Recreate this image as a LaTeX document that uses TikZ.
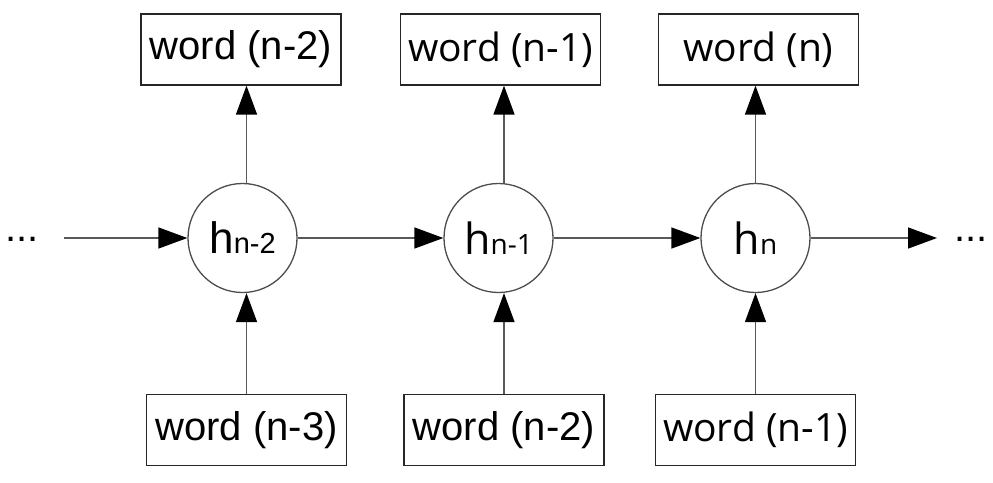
\documentclass[tikz,border=0pt]{standalone}
\usepackage{fontspec}
\setmainfont{Liberation Sans}
\newfontfamily\fb{Open Sans}
\usetikzlibrary{arrows.meta}
\begin{document}
\begin{tikzpicture}[x=1pt,y=-1pt,
 wbox/.style={draw=black!85, line width=1.3pt, minimum width=200pt, minimum height=71pt, inner sep=0pt, font=\fontsize{40}{40}\selectfont},
 wboxb/.style={wbox, font=\fb\fontsize{39}{39}\selectfont},
 hnode/.style={circle, draw=black!70, line width=1.3pt, minimum size=109pt, inner sep=0pt},
 conn/.style={draw=black!65, line width=1.5pt, -{Triangle[length=29pt,width=21pt,color=black]}},
 dots/.style={inner sep=0pt, anchor=base west, font=\fontsize{40}{40}\selectfont}
]
\useasboundingbox (0,0) rectangle (993,482);
% top boxes
\node[wbox]  (t1) at (241,49.5)   {word (n-2)};
\node[wboxb] (t2) at (500.5,49.5) {word (n-1)};
\node[wboxb] (t3) at (758.5,49.5) {word (n)};
% bottom boxes
\node[wbox]  (b1) at (246.5,430) {word (n-3)};
\node[wbox]  (b2) at (504,430)   {word (n-2)};
\node[wboxb] (b3) at (755.5,430) {word (n-1)};
% hidden states
\node[hnode] (c1) at (242.5,238) {\fontsize{44}{44}\selectfont h\fontsize{29}{29}\selectfont n-2};
\node[hnode] (c2) at (498.5,238) {\fb\fontsize{43}{43}\selectfont h\fontsize{28}{28}\selectfont n-1};
\node[hnode] (c3) at (755.5,238) {\fb\fontsize{43}{43}\selectfont h\fontsize{28}{28}\selectfont n};
% dots
\node[dots] (dl) at (5,241) {...};
\node[dots] (dr) at (954.5,241) {...};
\coordinate (lin) at (64,238);
\coordinate (rout) at (937,238);
% connectors
\draw[conn] (lin) -- (c1.west);
\draw[conn] (c1.east) -- (c2.west);
\draw[conn] (c2.east) -- (c3.west);
\draw[conn] (c3.east) -- (rout);
\draw[conn] (c1.north -| b1) -- (t1.south -| b1);
\draw[conn] (c2.north -| b2) -- (t2.south -| b2);
\draw[conn] (c3.north -| b3) -- (t3.south -| b3);
\draw[conn] (b1.north) -- (b1.north |- c1.south);
\draw[conn] (b2.north) -- (b2.north |- c2.south);
\draw[conn] (b3.north) -- (b3.north |- c3.south);
\end{tikzpicture}
\end{document}
